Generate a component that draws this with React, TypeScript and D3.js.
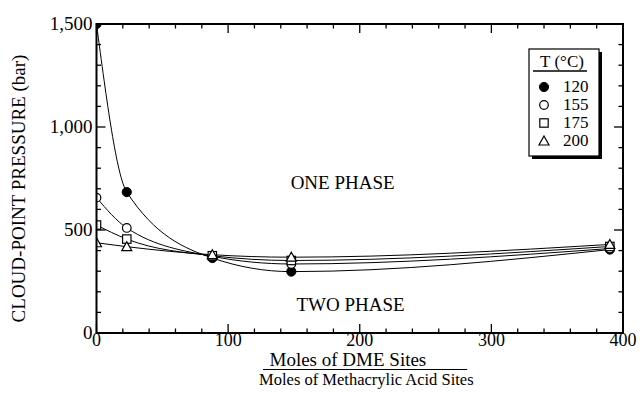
import { useEffect } from "react";
import * as d3 from "d3";

// Moles DME sites / moles methacrylic acid sites
const sites = [0, 23, 88, 148, 390];

// cloud-point pressure (bar) for each temperature
const p120 = [1500, 684, 364, 298, 405];
const p155 = [657, 510, 372, 335, 410];
const p175 = [524, 456, 375, 352, 420];
const p200 = [438, 419, 380, 368, 430];

const temps = ["120", "155", "175", "200"];
const symbols = ["filled", "circle", "square", "triangle"];

const xTicks = [0, 100, 200, 300, 400];
const yTicks = [0, 500, 1000, 1500];

const width = 640;
const height = 393;
const margin = { top: 24, right: 17, bottom: 60, left: 96.5 };
const font = '"Liberation Serif"';

const Marker = ({ kind, x, y }: { kind: string; x: number; y: number }) => {
  if (kind === "filled")
    return <circle cx={x} cy={y} r={4.6} fill="#000" stroke="#000" strokeWidth={1} />;
  if (kind === "circle")
    return <circle cx={x} cy={y} r={4.3} fill="#fff" stroke="#000" strokeWidth={1.2} />;
  if (kind === "square")
    return <rect x={x - 4.2} y={y - 4.2} width={8.4} height={8.4} fill="#fff" stroke="#000" strokeWidth={1.2} />;
  const s = 5;
  return (
    <path
      d={`M${x},${y - s}L${x + s},${y + s * 0.8}L${x - s},${y + s * 0.8}Z`}
      fill="#fff"
      stroke="#000"
      strokeWidth={1.2}
    />
  );
};

const Label = ({ children, ...rest }: any) => (
  <text {...rest} style={{ fontFamily: font }}>
    {children}
  </text>
);

const App = () => {
  useEffect(() => {
    document.body.style.margin = "0";
  }, []);

  const iw = width - margin.left - margin.right;
  const ih = height - margin.top - margin.bottom;

  const x = d3.scaleLinear().domain([0, 400]).range([0, iw]);
  const y = d3.scaleLinear().domain([0, 1500]).range([ih, 0]);

  const series = [p120, p155, p175, p200];

  const line = d3
    .line<number>()
    .x((_, i) => x(sites[i]))
    .y((d) => y(d))
    .curve(d3.curveMonotoneX);

  const minorX = d3.range(0, 401, 20);
  const minorY = d3.range(0, 1501, 100);

  return (
    <svg width={width} height={height} style={{ display: "block", background: "#fff" }}>
      <defs>
        <clipPath id="plot">
          <rect x={0} y={0} width={iw} height={ih} />
        </clipPath>
      </defs>
      <g transform={`translate(${margin.left},${margin.top})`}>
        {/* curves */}
        <g clipPath="url(#plot)">
          {series.map((s, k) => (
            <path key={k} d={line(s) || ""} fill="none" stroke="#000" strokeWidth={1} />
          ))}
          {series.map((s, k) =>
            s.map((v, i) => <Marker key={`${k}-${i}`} kind={symbols[k]} x={x(sites[i])} y={y(v)} />)
          )}
        </g>

        {/* ticks, all pointing inward */}
        {minorX.map((t) => {
          const len = t % 100 === 0 ? 9 : 4.5;
          return (
            <g key={`tx${t}`} stroke="#000" strokeWidth={1.3}>
              <line x1={x(t)} x2={x(t)} y1={ih} y2={ih - len} />
              <line x1={x(t)} x2={x(t)} y1={0} y2={len} />
            </g>
          );
        })}
        {minorY.map((t) => {
          const len = t % 500 === 0 ? 9 : 4.5;
          return (
            <g key={`ty${t}`} stroke="#000" strokeWidth={1.3}>
              <line x1={0} x2={len} y1={y(t)} y2={y(t)} />
              <line x1={iw} x2={iw - len} y1={y(t)} y2={y(t)} />
            </g>
          );
        })}

        {/* frame */}
        <rect x={0} y={0} width={iw} height={ih} fill="none" stroke="#000" strokeWidth={2} />

        {/* tick labels */}
        {xTicks.map((t) => (
          <Label key={`lx${t}`} x={x(t)} y={ih + 12.5} textAnchor="middle" fontSize={18}>
            {t}
          </Label>
        ))}
        {yTicks.map((t) => (
          <Label key={`ly${t}`} x={-4} y={y(t) + 6} textAnchor="end" fontSize={19}>
            {d3.format(",")(t)}
          </Label>
        ))}

        {/* region labels */}
        <Label x={x(187)} y={165} textAnchor="middle" fontSize={19}>
          ONE PHASE
        </Label>
        <Label x={x(193)} y={287} textAnchor="middle" fontSize={19}>
          TWO PHASE
        </Label>

        {/* axis titles */}
        <Label
          transform={`translate(${-margin.left + 25},${ih / 2 + 10}) rotate(-90)`}
          textAnchor="middle"
          fontSize={19}
        >
          CLOUD-POINT PRESSURE (bar)
        </Label>
        <Label x={x(191)} y={ih + 33} textAnchor="middle" fontSize={19}>
          Moles of DME Sites
        </Label>
        <line x1={x(126.5)} x2={x(281.6)} y1={ih + 36.5} y2={ih + 36.5} stroke="#000" strokeWidth={1.2} />
        <Label x={x(205)} y={ih + 52} textAnchor="middle" fontSize={16.5}>
          Moles of Methacrylic Acid Sites
        </Label>

        {/* legend */}
        <g transform={`translate(${529 - margin.left},${49 - margin.top})`}>
          <rect x={3} y={3} width={70} height={107} fill="#000" />
          <rect x={0} y={0} width={70} height={107} fill="#fff" stroke="#000" strokeWidth={1.2} />
          <Label x={33} y={18} textAnchor="middle" fontSize={17}>
            T (°C)
          </Label>
          <line x1={4} x2={58} y1={22} y2={22} stroke="#000" strokeWidth={1.5} />
          {temps.map((t, i) => (
            <g key={t}>
              <Marker kind={symbols[i]} x={15} y={38 + i * 18} />
              <Label x={34} y={43 + i * 18} fontSize={17}>
                {t}
              </Label>
            </g>
          ))}
        </g>
      </g>
    </svg>
  );
};

export default App;
